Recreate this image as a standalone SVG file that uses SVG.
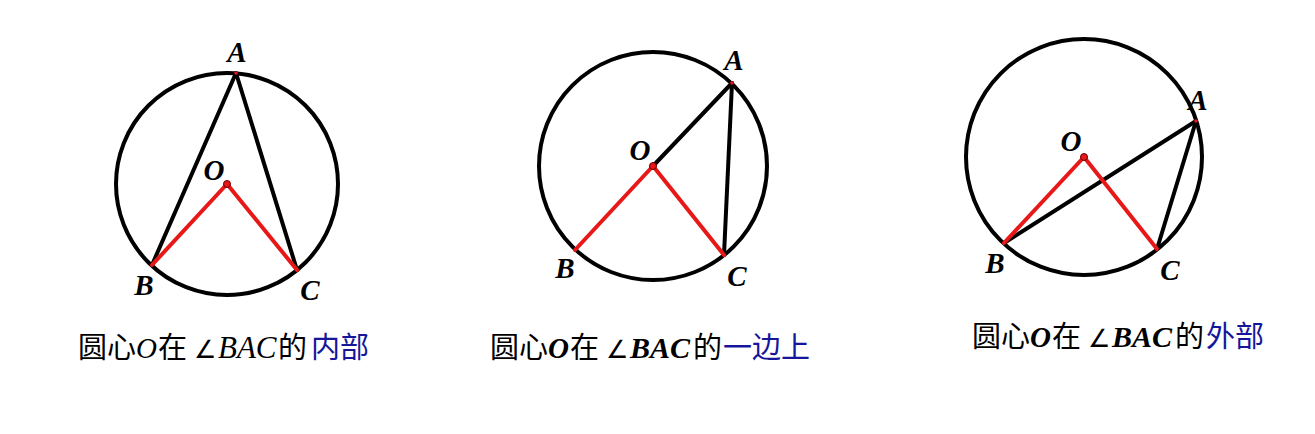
<svg xmlns="http://www.w3.org/2000/svg" width="1315" height="434" viewBox="0 0 1315 434">
<style>
.circ{fill:none;stroke:#000;stroke-width:4}
.blk{stroke:#000;stroke-width:4;stroke-linecap:round}
.red{stroke:#e81818;stroke-width:4;stroke-linecap:round}
.dot{fill:#e81818;stroke:#600;stroke-width:1}
.pt{fill:#e81818}
.lbl{font-family:"Liberation Serif",serif;font-style:italic;font-weight:bold;font-size:29px;fill:#000;text-anchor:middle}
.cap{font-family:"Noto Sans CJK SC",sans-serif;font-size:29px;fill:#000}
.m{font-family:"Liberation Serif",serif;font-style:italic;font-size:31px}
.mb{font-family:"Liberation Serif",serif;font-style:italic;font-weight:bold;font-size:30px}
.o{font-size:29px}
.ang{font-family:"DejaVu Sans",sans-serif;font-size:25px}
.blue{fill:#16169a}
</style>
<rect width="1315" height="434" fill="#fff"/>

<g id="fig1">
  <circle class="circ" cx="227" cy="184" r="111"/>
  <g id="fig1-edges">
    <line class="blk" x1="236" y1="73" x2="152" y2="265"/>
    <line class="blk" x1="236" y1="73" x2="297" y2="270"/>
    <line class="red" x1="227" y1="184" x2="152" y2="265"/>
    <line class="red" x1="227" y1="184" x2="297" y2="270"/>
  </g>
  <g id="fig1-A"><circle class="pt" cx="236" cy="73" r="1.8"/><text class="lbl" x="237" y="62">A</text></g>
  <g id="fig1-O"><circle class="dot" cx="227" cy="184" r="3.5"/><text class="lbl" x="214" y="180">O</text></g>
  <g id="fig1-B"><text class="lbl" x="144" y="295">B</text></g>
  <g id="fig1-C"><text class="lbl" x="310" y="300">C</text></g>
  <g id="cap1"><text class="cap" y="358"><tspan x="78">圆心</tspan><tspan class="m o" x="136">O</tspan><tspan x="158">在</tspan><tspan class="ang" x="194">∠</tspan><tspan class="m" x="218">BAC</tspan><tspan x="278">的</tspan><tspan class="blue" x="311">内部</tspan></text></g>
</g>

<g id="fig2">
  <circle class="circ" cx="653" cy="166" r="114"/>
  <g id="fig2-edges">
    <line class="blk" x1="732" y1="83" x2="653" y2="166"/>
    <line class="blk" x1="732" y1="83" x2="724" y2="255"/>
    <line class="red" x1="653" y1="166" x2="575" y2="250"/>
    <line class="red" x1="653" y1="166" x2="724" y2="255"/>
  </g>
  <g id="fig2-A"><circle class="pt" cx="732" cy="83" r="1.8"/><text class="lbl" x="734" y="70">A</text></g>
  <g id="fig2-O"><circle class="dot" cx="653" cy="166" r="3.5"/><text class="lbl" x="640" y="160">O</text></g>
  <g id="fig2-B"><text class="lbl" x="565" y="278">B</text></g>
  <g id="fig2-C"><text class="lbl" x="737" y="286">C</text></g>
  <g id="cap2"><text class="cap" y="358"><tspan x="490">圆心</tspan><tspan class="mb o" x="548">O</tspan><tspan x="570">在</tspan><tspan class="ang" x="606">∠</tspan><tspan class="mb" x="630">BAC</tspan><tspan x="693">的</tspan><tspan class="blue" x="723">一边上</tspan></text></g>
</g>

<g id="fig3">
  <circle class="circ" cx="1084" cy="157" r="118"/>
  <g id="fig3-edges">
    <line class="blk" x1="1196" y1="121" x2="1004" y2="243"/>
    <line class="blk" x1="1196" y1="121" x2="1157" y2="249"/>
    <line class="red" x1="1084" y1="157" x2="1004" y2="243"/>
    <line class="red" x1="1084" y1="157" x2="1157" y2="249"/>
  </g>
  <g id="fig3-A"><circle class="pt" cx="1196" cy="121" r="1.8"/><text class="lbl" x="1198" y="110">A</text></g>
  <g id="fig3-O"><circle class="dot" cx="1084" cy="157" r="3.5"/><text class="lbl" x="1071" y="151">O</text></g>
  <g id="fig3-B"><text class="lbl" x="995" y="273">B</text></g>
  <g id="fig3-C"><text class="lbl" x="1170" y="280">C</text></g>
  <g id="cap3"><text class="cap" y="347"><tspan x="972">圆心</tspan><tspan class="mb o" x="1030">O</tspan><tspan x="1052">在</tspan><tspan class="ang" x="1088">∠</tspan><tspan class="mb" x="1112">BAC</tspan><tspan x="1175">的</tspan><tspan class="blue" x="1206">外部</tspan></text></g>
</g>
</svg>
